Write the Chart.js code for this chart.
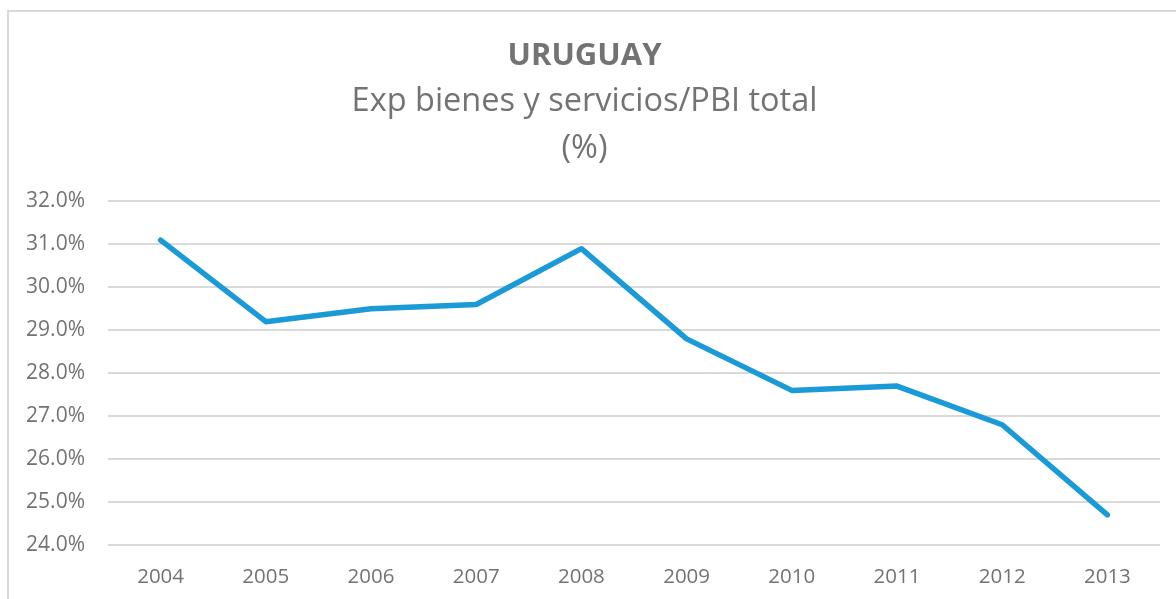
<!DOCTYPE html>
<html>
<head>
<meta charset="utf-8">
<script src="https://cdn.jsdelivr.net/npm/chart.js@4"></script>
<style>
  html, body { margin: 0; padding: 0; background: #fff; overflow: hidden; }
  #box {
    position: absolute; left: 7px; top: 10px;
    width: 1169px; height: 589px;
    border-left: 2px solid #d9d9d9; border-top: 2px solid #d9d9d9;
  }
</style>
</head>
<body>
<div id="box"><canvas id="chart"></canvas></div>
<script>
const years = ["2004", "2005", "2006", "2007", "2008", "2009", "2010", "2011", "2012", "2013"];
const expShare = [31.1, 29.2, 29.5, 29.6, 30.9, 28.8, 27.6, 27.7, 26.8, 24.7];
const titleText = "URUGUAY";
const subtitleLines = ["Exp bienes y servicios/PBI total", "(%)"];

const gray = "#737373";
const font = "'Open Sans', sans-serif";

new Chart(document.getElementById("chart"), {
  type: "line",
  data: {
    labels: years,
    datasets: [{
      data: expShare,
      borderColor: "#1a9ad6",
      borderWidth: 5.5,
      pointRadius: 0,
      tension: 0,
      borderCapStyle: "round",
      borderJoinStyle: "round"
    }]
  },
  options: {
    responsive: true,
    maintainAspectRatio: false,
    animation: false,
    layout: { padding: { left: 0, right: 18, top: 0, bottom: 0 } },
    plugins: {
      legend: { display: false },
      tooltip: { enabled: false },
      title: {
        display: true,
        text: titleText,
        color: gray,
        font: { family: font, size: 31, weight: "bold", lineHeight: 1.2 },
        padding: { top: 26, bottom: 3 }
      },
      subtitle: {
        display: true,
        text: subtitleLines,
        color: gray,
        font: { family: font, size: 32.5, lineHeight: 1.45 },
        padding: { top: 0, bottom: 29 }
      }
    },
    scales: {
      x: {
        offset: true,
        grid: { display: false },
        border: { display: false },
        ticks: { color: gray, font: { family: font, size: 20.5 }, padding: 12, maxRotation: 0 },
        afterFit: s => { s.height = 56; }
      },
      y: {
        min: 24,
        max: 32,
        grid: { color: "#d9d9d9", lineWidth: 2, drawTicks: false },
        border: { display: false },
        ticks: {
          stepSize: 1,
          color: gray,
          font: { family: font, size: 21 },
          padding: 23,
          callback: v => v.toFixed(1) + "%"
        },
        afterFit: s => { s.width = 99; }
      }
    }
  }
});
</script>
</body>
</html>
